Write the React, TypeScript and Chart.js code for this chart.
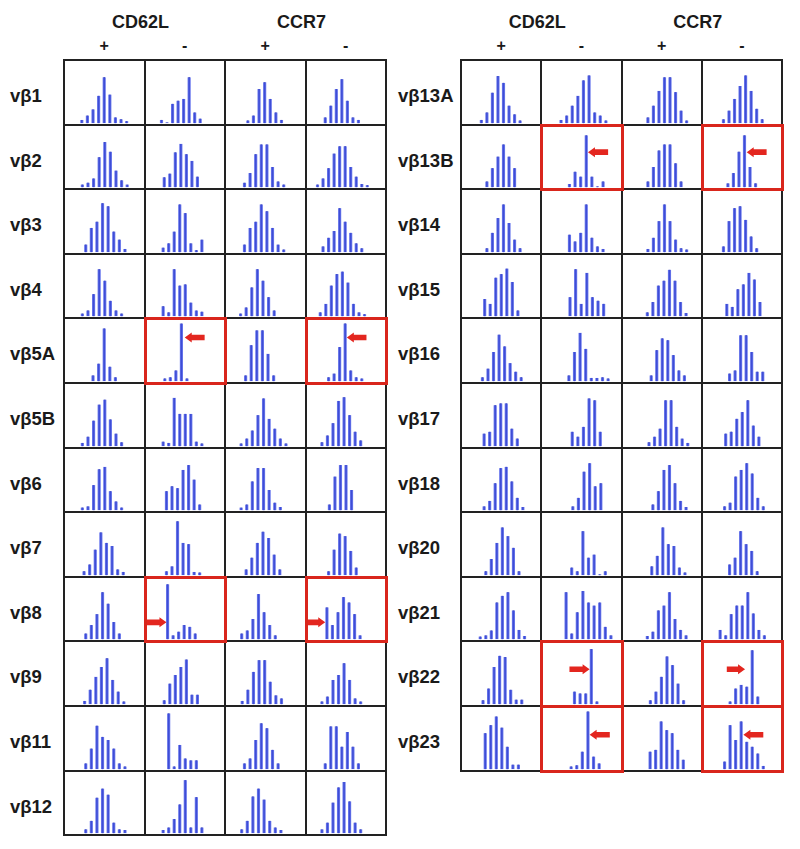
import React, { useEffect, useRef } from "react";
import { Chart, registerables } from "chart.js";

Chart.register(...registerables);

// ---- text ----
const markers = ["CD62L", "CCR7"];
const signs = ["+", "-", "+", "-"];
const leftFamilies = ["vβ1", "vβ2", "vβ3", "vβ4", "vβ5A", "vβ5B", "vβ6", "vβ7", "vβ8", "vβ9", "vβ11", "vβ12"];
const rightFamilies = ["vβ13A", "vβ13B", "vβ14", "vβ15", "vβ16", "vβ17", "vβ18", "vβ20", "vβ21", "vβ22", "vβ23"];

// ---- spectratype profiles: per cell [first CDR3 length slot, peak heights...] ----
// columns: CD62L+, CD62L-, CCR7+, CCR7-
const vb1 = [[2.0, 4, 11, 21, 43, 73, 45, 8, 5, 2], [1.8, 4, 0, 30, 35, 38, 73, 16, 6], [2.9, 3, 11, 54, 65, 38, 16, 4], [2.3, 8, 27, 54, 70, 35, 8, 4]];
const vb2 = [[2.1, 3, 6, 13, 48, 73, 57, 26, 10, 3], [2.3, 15, 21, 56, 70, 53, 42, 16], [2.3, 6, 22, 53, 69, 69, 32, 8, 3], [0.9, 3, 13, 30, 54, 66, 66, 32, 16, 4, 2]];
const vb3 = [[2.7, 11, 38, 48, 78, 73, 32, 19, 4], [2.1, 6, 13, 32, 76, 62, 13, 2, 19], [2.3, 11, 38, 48, 76, 65, 38, 11, 3], [1.9, 8, 22, 33, 70, 48, 30, 13, 5]];
const vb4 = [[2.1, 3, 8, 35, 76, 57, 24, 8, 3], [2.1, 15, 5, 76, 49, 51, 21, 8, 6], [1.6, 3, 13, 46, 76, 57, 30, 8], [1.4, 5, 19, 49, 68, 72, 54, 19, 5, 2]];
const vb5A = [[4.0, 8, 27, 84, 22, 5], [2.4, 3, 5, 16, 92, 3], [2.5, 8, 57, 81, 81, 43, 8], [2.9, 5, 11, 54, 92, 16, 5, 3]];
const vb5B = [[2.1, 4, 14, 40, 66, 74, 42, 19, 5], [2.1, 6, 4, 77, 51, 51, 51, 6, 3], [1.7, 3, 11, 24, 49, 76, 43, 27, 11, 3], [1.7, 5, 16, 36, 72, 78, 49, 22, 8]];
const vb6 = [[2.1, 3, 5, 40, 66, 70, 30, 13, 3], [2.7, 30, 38, 35, 65, 73, 49, 8], [1.7, 3, 8, 46, 68, 68, 32, 11, 4], [3.05, 8, 54, 73, 73, 32]];
const vb7 = [[2.4, 5, 16, 40, 68, 51, 46, 8, 4], [2.7, 5, 13, 86, 51, 49, 4, 3], [2.6, 8, 27, 51, 69, 59, 32, 8], [2.9, 5, 40, 66, 62, 38, 11]];
const vb8 = [[2.7, 8, 22, 40, 76, 57, 27, 8], [2.9, 89, 5, 11, 22, 19, 8], [1.8, 8, 13, 32, 73, 43, 22, 5], [2.6, 51, 22, 43, 68, 59, 40, 5]];
const vb9 = [[2.5, 4, 22, 43, 59, 73, 38, 19, 3], [2.3, 5, 32, 46, 59, 71, 14, 14], [1.9, 4, 22, 51, 70, 70, 35, 13, 8], [1.7, 3, 11, 38, 46, 65, 38, 8, 3]];
const vb11 = [[2.7, 8, 32, 69, 51, 46, 32, 8, 3], [3.1, 89, 3, 38, 16, 13, 13], [2.3, 8, 16, 46, 73, 65, 30, 8], [2.3, 8, 68, 68, 35, 59, 35, 8]];
const vb12 = [[2.7, 5, 19, 57, 72, 62, 16, 5, 4], [2.1, 4, 8, 22, 46, 86, 8, 58, 8], [1.8, 5, 19, 59, 72, 54, 19, 8, 4], [1.7, 5, 16, 49, 74, 83, 51, 16, 5]];
const vb13A = [[2.5, 4, 16, 48, 75, 64, 27, 13, 3], [2.4, 4, 11, 27, 43, 68, 76, 16, 11, 3], [3.5, 8, 27, 51, 73, 73, 49, 19, 3], [2.7, 5, 19, 38, 59, 76, 51, 22, 5]];
const vb13B = [[3.5, 8, 30, 49, 69, 49, 30], [3.9, 4, 24, 16, 84, 16, 0, 8], [3.5, 8, 32, 59, 69, 69, 38, 8], [3.5, 5, 22, 57, 84, 32, 5]];
const vb14 = [[3.5, 5, 30, 54, 76, 46, 19, 5], [3.9, 27, 16, 30, 76, 22, 8, 4], [3.5, 4, 22, 49, 76, 49, 19, 5, 3], [2.7, 8, 49, 70, 73, 51, 24, 5]];
const vb15 = [[3.1, 27, 19, 62, 68, 77, 55, 8], [4.0, 30, 76, 19, 70, 30, 24, 19], [3.4, 5, 22, 49, 57, 75, 57, 22, 4], [3.3, 19, 14, 43, 51, 70, 59, 22]];
const vb16 = [[2.7, 5, 19, 46, 74, 55, 28, 14, 5], [3.8, 8, 46, 77, 51, 4, 4, 5, 3], [4.1, 8, 49, 68, 65, 41, 16, 8], [3.8, 11, 16, 73, 73, 46, 14, 14]];
const vb17 = [[3.0, 19, 22, 65, 68, 68, 27, 11], [4.4, 22, 14, 30, 76, 73, 22], [3.7, 5, 14, 27, 73, 73, 30, 11, 4], [3.1, 19, 22, 43, 54, 73, 32, 14]];
const vb18 = [[3.0, 5, 14, 43, 68, 70, 46, 19, 4], [4.5, 5, 19, 62, 76, 38, 43], [4.4, 8, 30, 65, 73, 43, 14, 4], [2.9, 5, 11, 54, 65, 76, 59, 19, 5]];
const vb20 = [[3.3, 5, 25, 51, 76, 62, 43, 5], [4.3, 11, 5, 70, 27, 32, 0, 5], [4.2, 13, 30, 76, 49, 46, 11, 3], [3.8, 16, 27, 70, 49, 38, 5]];
const vb21 = [[2.3, 3, 5, 13, 59, 70, 76, 46, 14, 4], [3.3, 76, 8, 43, 78, 59, 54, 59, 19, 5], [3.4, 4, 11, 46, 54, 76, 32, 14, 5], [2.1, 14, 5, 40, 54, 54, 76, 41, 14, 5]];
const vb22 = [[2.8, 5, 24, 59, 77, 75, 22, 6, 6], [4.8, 19, 16, 16, 88, 3], [3.95, 5, 19, 43, 76, 62, 32, 5], [3.9, 3, 24, 30, 27, 86, 11]];
const vb23 = [[3.2, 57, 70, 84, 66, 35, 6, 6], [4.2, 3, 5, 27, 92, 19, 8], [3.9, 27, 30, 76, 62, 57, 30, 14], [2.9, 11, 70, 46, 76, 43, 35, 24, 4]];

const profiles: Record<string, number[][]> = {
  "vβ1": vb1, "vβ2": vb2, "vβ3": vb3, "vβ4": vb4, "vβ5A": vb5A, "vβ5B": vb5B,
  "vβ6": vb6, "vβ7": vb7, "vβ8": vb8, "vβ9": vb9, "vβ11": vb11, "vβ12": vb12,
  "vβ13A": vb13A, "vβ13B": vb13B, "vβ14": vb14, "vβ15": vb15, "vβ16": vb16, "vβ17": vb17,
  "vβ18": vb18, "vβ20": vb20, "vβ21": vb21, "vβ22": vb22, "vβ23": vb23,
};

// highlighted (oligoclonal) cells: family, column, arrow tail x, arrow tip x, arrow y
const arrows: [string, number, number, number, number][] = [
  ["vβ5A", 1, 9.6, 6.0, 70], ["vβ5A", 3, 9.75, 6.2, 70],
  ["vβ8", 1, -0.9, 2.7, 27], ["vβ8", 3, -1.0, 2.3, 27],
  ["vβ13B", 1, 10.8, 7.2, 57], ["vβ13B", 3, 10.5, 6.9, 57],
  ["vβ22", 1, 3.9, 7.5, 56], ["vβ22", 3, 3.3, 6.6, 56],
  ["vβ23", 1, 11.1, 7.5, 55], ["vβ23", 3, 9.9, 6.3, 55],
];

// ---- layout constants ----
const X_MIN = -1.0, X_MAX = 13.1, Y_MIN = -2, Y_MAX = 100;
const TOP_Y = 60, ROW_H = 64.6;
const LEFT_X = 64, LEFT_W = 80.5, RIGHT_X = 461, RIGHT_W = 80.25;
const FONT = "'Liberation Sans', Arial, sans-serif";
const GRID = "#222";
const RED = "#d9261c";

function CellChart({ spec, arrow, width, height }: { spec: number[]; arrow: number[] | null; width: number; height: number }) {
  const ref = useRef<HTMLCanvasElement>(null);
  useEffect(() => {
    const [start, ...heights] = spec;
    const pts = heights.map((h, i) => ({ x: start + i, y: h }));
    const arrowPlugin = {
      id: "cellArrow",
      afterDatasetsDraw(chart: any) {
        if (!arrow) return;
        const [tail, tip, yv] = arrow;
        const xs = chart.scales.x, ys = chart.scales.y;
        const x0 = xs.getPixelForValue(tail), x1 = xs.getPixelForValue(tip), py = ys.getPixelForValue(yv);
        const dir = Math.sign(x1 - x0);
        const headLen = 7, headH = 5, shaftH = 2.8;
        const ctx = chart.ctx;
        ctx.save();
        ctx.fillStyle = "#e3261f";
        ctx.beginPath();
        ctx.moveTo(x0, py - shaftH);
        ctx.lineTo(x1 - dir * headLen, py - shaftH);
        ctx.lineTo(x1 - dir * headLen, py - headH);
        ctx.lineTo(x1, py);
        ctx.lineTo(x1 - dir * headLen, py + headH);
        ctx.lineTo(x1 - dir * headLen, py + shaftH);
        ctx.lineTo(x0, py + shaftH);
        ctx.closePath();
        ctx.fill();
        ctx.restore();
      },
    };
    const chart = new Chart(ref.current as HTMLCanvasElement, {
      type: "bar",
      data: {
        datasets: [
          { data: pts as any, backgroundColor: "rgba(70,88,232,0.8)", barThickness: 2.5 } as any,
          { data: pts as any, backgroundColor: "#20268a", barThickness: 0.9 } as any,
        ],
      },
      options: {
        animation: false,
        responsive: false,
        events: [],
        layout: { padding: 0 },
        datasets: { bar: { grouped: false } } as any,
        plugins: { legend: { display: false }, tooltip: { enabled: false } },
        scales: {
          x: { type: "linear", min: X_MIN, max: X_MAX, offset: false, display: false },
          y: { min: Y_MIN, max: Y_MAX, display: false },
        },
      },
      plugins: [arrowPlugin],
    });
    return () => chart.destroy();
  }, [spec, arrow, width, height]);
  return <canvas ref={ref} width={width} height={height} style={{ display: "block", width, height }} />;
}

function Panel({ families, x0, colW }: { families: string[]; x0: number; colW: number }) {
  const items: React.ReactNode[] = [];
  const overlays: React.ReactNode[] = [];
  families.forEach((fam, r) => {
    const ya = Math.round(TOP_Y + r * ROW_H);
    const yb = Math.round(TOP_Y + (r + 1) * ROW_H);
    items.push(
      <div key={"lab" + fam} style={{ position: "absolute", left: x0 - (x0 > 200 ? 63 : 54), top: ya + 26.5, fontFamily: FONT, fontWeight: "bold", fontSize: 18.5, lineHeight: "18px", color: "#1a1a1a", whiteSpace: "nowrap" }}>
        {fam}
      </div>
    );
    for (let c = 0; c < 4; c++) {
      const xa = Math.round(x0 + c * colW);
      const xb = Math.round(x0 + (c + 1) * colW);
      const arrowDef = arrows.find((a) => a[0] === fam && a[1] === c);
      items.push(
        <div key={fam + c} style={{ position: "absolute", left: xa - 1, top: ya - 1, width: xb - xa + 2, height: yb - ya + 2, border: `2px solid ${GRID}`, boxSizing: "border-box", background: "#fff" }}>
          <CellChart spec={profiles[fam][c]} arrow={arrowDef ? arrowDef.slice(2) : null} width={xb - xa - 2} height={yb - ya - 2} />
        </div>
      );
      if (arrowDef) {
        overlays.push(
          <div key={"hl" + fam + c} style={{ position: "absolute", left: xa - 1.5, top: ya - 1.5, width: xb - xa + 3, height: yb - ya + 3, border: `3px solid ${RED}`, boxSizing: "border-box", zIndex: 2, pointerEvents: "none" }} />
        );
      }
    }
  });
  const headers = markers.map((m, i) => (
    <div key={"m" + m + i} style={{ position: "absolute", left: x0 + (2 * i + 1) * colW - 4 - 60, width: 120, top: 13, textAlign: "center", fontFamily: FONT, fontWeight: "bold", fontSize: 18, lineHeight: "18px", color: "#1a1a1a" }}>
      {m}
    </div>
  ));
  const signEls = signs.map((s, i) => (
    <div key={"s" + i} style={{ position: "absolute", left: x0 + (i + 0.5) * colW - 20, width: 40, top: 37.5, textAlign: "center", fontFamily: FONT, fontWeight: "bold", fontSize: 16, lineHeight: "16px", color: "#1a1a1a" }}>
      {s}
    </div>
  ));
  return (
    <>
      {headers}
      {signEls}
      {items}
      {overlays}
    </>
  );
}

export default function App() {
  return (
    <div style={{ position: "absolute", left: 0, top: 0, width: 800, height: 849, background: "#fff", overflow: "hidden" }}>
      <Panel families={leftFamilies} x0={LEFT_X} colW={LEFT_W} />
      <Panel families={rightFamilies} x0={RIGHT_X} colW={RIGHT_W} />
    </div>
  );
}
